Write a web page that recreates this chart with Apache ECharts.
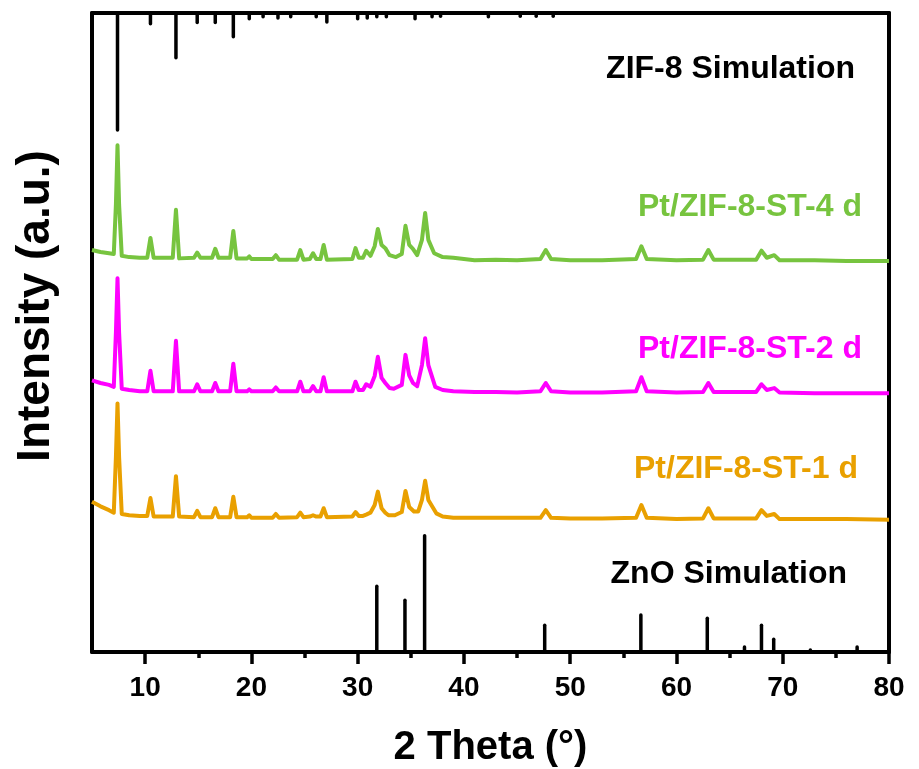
<!DOCTYPE html>
<html>
<head>
<meta charset="utf-8">
<script src="https://cdn.jsdelivr.net/npm/echarts@6/dist/echarts.min.js"></script>
<style>
  html, body { margin: 0; padding: 0; background: #fff; }
  #chart { width: 919px; height: 769px; }
</style>
</head>
<body>
<div id="chart"></div>
<script>
// reference patterns (stick heights)
const zif8Pos = [7.4, 10.5, 12.9, 14.9, 16.6, 18.3, 19.8, 21.1, 22.5, 23.7, 26.1, 27.1, 30.0, 30.9, 31.8, 32.7, 35.4, 37.0, 37.8, 42.3, 45.3, 46.8, 48.4];
const zif8Int = [18.3, 1.7, 7.0, 1.5, 1.5, 3.7, 0.9, 0.6, 0.8, 0.6, 0.6, 1.4, 0.9, 0.8, 0.6, 0.6, 0.9, 0.6, 0.5, 0.6, 0.5, 0.5, 0.5];
const znoPos = [31.8, 34.45, 36.3, 47.6, 56.65, 62.9, 66.4, 68.0, 69.15, 72.6, 77.0];
const znoInt = [10.3, 8.1, 18.2, 4.2, 5.8, 5.3, 0.8, 4.2, 2.0, 0.3, 0.8];

// measured patterns [2theta, intensity]
const st4 = [[5.0,62.9],[5.8,62.6],[6.6,62.4],[7.05,62.3],[7.25,70.0],[7.4,79.3],[7.55,70.0],[7.8,62.0],[8.5,61.8],[9.5,61.7],[10.2,61.7],[10.5,64.8],[10.8,61.7],
  [12.6,61.7],[12.9,69.2],[13.2,61.6],[14.6,61.7],[14.9,62.5],[15.2,61.7],[16.3,61.7],[16.6,63.1],[16.9,61.7],[18.0,61.7],[18.3,65.9],[18.6,61.6],
  [19.6,61.6],[19.8,61.9],[20.0,61.5],[22.0,61.5],[22.3,62.1],[22.6,61.4],[24.3,61.4],[24.6,62.9],[24.9,61.4],[25.5,61.5],[25.8,62.4],[26.1,61.5],
  [26.5,61.5],[26.8,63.7],[27.1,61.4],[29.5,61.5],[29.8,63.2],[30.1,61.7],[30.5,61.7],[30.8,62.8],[31.2,62.0],[31.6,63.5],[31.9,66.2],[32.25,63.7],
  [32.6,63.2],[33.0,62.1],[33.6,61.8],[34.15,62.3],[34.5,66.7],[34.85,63.7],[35.2,63.1],[35.6,62.1],[36.05,64.5],[36.35,68.7],[36.65,64.5],[37.2,62.4],
  [38.0,61.8],[39.0,61.7],[41.0,61.3],[43.0,61.4],[45.0,61.3],[47.2,61.5],[47.7,62.9],[48.2,61.5],[50.0,61.3],[53.0,61.3],[56.2,61.5],[56.7,63.5],
  [57.2,61.5],[60.0,61.3],[62.5,61.4],[63.0,62.9],[63.5,61.4],[67.5,61.4],[68.0,62.8],[68.5,61.7],[69.2,62.1],[69.7,61.3],[73.0,61.3],[76.0,61.2],[80.0,61.2]];
const st2 = [[5.0,42.5],[5.8,42.1],[6.6,41.8],[7.05,41.5],[7.25,50.0],[7.4,58.5],[7.55,50.0],[7.8,41.2],[8.5,41.0],[9.5,40.8],[10.2,40.8],[10.5,44.0],[10.8,40.8],
  [12.6,40.8],[12.9,48.7],[13.2,40.8],[14.6,40.8],[14.9,41.9],[15.2,40.8],[16.3,40.8],[16.6,42.1],[16.9,40.8],[18.0,40.8],[18.3,45.1],[18.6,40.8],
  [19.6,40.8],[19.8,41.1],[20.0,40.8],[22.0,40.8],[22.3,41.4],[22.6,40.8],[24.3,40.8],[24.6,42.3],[24.9,40.8],[25.5,40.8],[25.8,41.6],[26.1,40.8],
  [26.5,40.8],[26.8,43.0],[27.1,40.8],[29.5,40.8],[29.8,42.3],[30.1,41.0],[30.5,41.0],[30.8,41.9],[31.2,41.5],[31.6,43.2],[31.9,46.2],[32.25,42.9],
  [32.6,42.1],[33.0,41.3],[33.4,41.2],[34.15,41.8],[34.5,46.5],[34.85,43.3],[35.2,42.1],[35.6,41.6],[36.05,44.9],[36.35,49.1],[36.65,44.9],[37.3,41.5],
  [38.0,41.0],[39.0,40.8],[41.0,40.7],[43.0,40.7],[45.0,40.6],[47.2,40.8],[47.7,42.1],[48.2,40.8],[50.0,40.6],[53.0,40.6],[56.2,40.8],[56.7,43.0],
  [57.2,40.8],[60.0,40.6],[62.5,40.7],[63.0,42.1],[63.5,40.7],[67.5,40.7],[68.0,41.9],[68.5,41.0],[69.2,41.3],[69.7,40.6],[73.0,40.5],[76.0,40.5],[80.0,40.5]];
const st1 = [[5.0,23.5],[5.8,22.8],[6.6,22.2],[7.05,21.8],[7.25,30.5],[7.4,38.9],[7.55,30.5],[7.8,21.6],[8.5,21.4],[9.5,21.3],[10.2,21.3],[10.5,24.1],[10.8,21.2],
  [12.6,21.2],[12.9,27.5],[13.2,21.2],[14.6,21.1],[14.9,22.1],[15.2,21.1],[16.3,21.1],[16.6,22.5],[16.9,21.1],[18.0,21.1],[18.3,24.3],[18.6,21.1],
  [19.6,21.1],[19.8,21.4],[20.0,21.0],[22.0,21.0],[22.3,21.6],[22.6,21.0],[24.3,21.1],[24.6,21.8],[24.9,21.1],[25.5,21.2],[25.8,21.4],[26.1,21.2],
  [26.5,21.2],[26.8,22.5],[27.1,21.1],[29.5,21.2],[29.8,21.9],[30.1,21.3],[30.5,21.3],[30.8,21.5],[31.2,21.8],[31.6,23.0],[31.9,25.1],[32.25,22.5],
  [32.6,21.8],[32.9,21.4],[33.5,21.4],[34.15,21.9],[34.5,25.2],[34.85,22.7],[35.3,22.0],[35.7,22.0],[36.05,23.8],[36.35,26.8],[36.65,23.8],[37.4,21.7],
  [38.0,21.2],[39.0,21.0],[41.0,21.0],[43.0,21.0],[45.0,21.0],[47.2,21.0],[47.7,22.2],[48.2,21.0],[50.0,20.9],[53.0,20.9],[56.2,21.0],[56.7,23.0],
  [57.2,21.0],[60.0,20.8],[62.5,20.9],[63.0,22.5],[63.5,20.9],[67.5,20.9],[68.0,22.2],[68.5,21.3],[69.2,21.6],[69.7,20.8],[73.0,20.8],[76.0,20.8],[80.0,20.7]];

const majorTicks = [10, 20, 30, 40, 50, 60, 70, 80];
const minorTicks = [15, 25, 35, 45, 55, 65, 75];

const FONT = 'Arial, "Liberation Sans", sans-serif';
const GREEN = '#77C43F', PINK = '#FF00FF', ORANGE = '#E9A000';

const chart = echarts.init(document.getElementById('chart'));

// sticks hanging from a base value; dir = +1 up, -1 down
function stickSeries(pos, ints, base, dir) {
    return {
        type: 'custom',
        xAxisIndex: 0,
        yAxisIndex: 0,
        data: pos.map((p, i) => [p, ints[i]]),
        renderItem: (params, api) => {
            const x = api.value(0), h = api.value(1);
            const p0 = api.coord([x, base]);
            const p1 = api.coord([x, base + dir * h]);
            return {
                type: 'line',
                shape: { x1: p0[0], y1: p0[1], x2: p1[0], y2: p1[1] },
                style: { stroke: '#000', lineWidth: 3.5, lineCap: 'round' }
            };
        },
        silent: true,
        z: 3
    };
}

function lineSeries(data, color) {
    return {
        type: 'line',
        data: data,
        showSymbol: false,
        smooth: false,
        lineStyle: { color: color, width: 4, join: 'round' },
        silent: true,
        z: 4
    };
}

const labelStyle = (text, color, x, y) => ({
    type: 'text',
    right: 919 - x,
    top: y - 17,
    style: { text: text, fill: color, font: 'bold 32px ' + FONT, textAlign: 'right' }
});

const option = {
    animation: false,
    backgroundColor: '#fff',
    grid: { left: 92, right: 30, top: 13, bottom: 117, outerBoundsMode: 'none', containLabel: false },
    xAxis: [{
        type: 'value',
        position: 'bottom',
        min: 5,
        max: 80,
        axisLine: { show: true, onZero: false, lineStyle: { color: '#000', width: 4 } },
        axisTick: { show: true, customValues: majorTicks, inside: false, length: 12, lineStyle: { color: '#000', width: 3.5 } },
        axisLabel: { customValues: majorTicks, color: '#000', fontSize: 28, fontWeight: 'bold', fontFamily: FONT, margin: 22 },
        splitLine: { show: false },
        name: '2 Theta (°)',
        nameLocation: 'middle',
        nameGap: 76,
        nameTextStyle: { color: '#000', fontSize: 40, fontWeight: 'bold', fontFamily: FONT }
    }, {
        type: 'value',
        position: 'bottom',
        min: 5,
        max: 80,
        offset: 0,
        axisLine: { show: false, onZero: false },
        axisTick: { show: true, customValues: minorTicks, length: 6, lineStyle: { color: '#000', width: 3.5 } },
        axisLabel: { show: false },
        splitLine: { show: false }
    }, {
        type: 'value',
        position: 'top',
        min: 5,
        max: 80,
        axisLine: { show: true, onZero: false, lineStyle: { color: '#000', width: 4 } },
        axisTick: { show: false },
        axisLabel: { show: false },
        splitLine: { show: false }
    }],
    yAxis: [{
        type: 'value',
        min: 0,
        max: 100,
        position: 'left',
        axisLine: { show: true, onZero: false, lineStyle: { color: '#000', width: 4 } },
        axisTick: { show: false },
        axisLabel: { show: false },
        splitLine: { show: false }
    }, {
        type: 'value',
        min: 0,
        max: 100,
        position: 'right',
        axisLine: { show: true, onZero: false, lineStyle: { color: '#000', width: 4 } },
        axisTick: { show: false },
        axisLabel: { show: false },
        splitLine: { show: false }
    }],
    graphic: [
        {
            type: 'text',
            x: 36,
            y: 306,
            rotation: Math.PI / 2,
            style: { text: 'Intensity (a.u.)', fill: '#000', font: 'bold 46px ' + FONT, textAlign: 'center', textVerticalAlign: 'middle' }
        },
        labelStyle('ZIF-8 Simulation', '#000', 855, 70),
        labelStyle('Pt/ZIF-8-ST-4 d', GREEN, 862, 208),
        labelStyle('Pt/ZIF-8-ST-2 d', PINK, 862, 350),
        labelStyle('Pt/ZIF-8-ST-1 d', ORANGE, 858, 470),
        labelStyle('ZnO Simulation', '#000', 847, 575)
    ],
    series: [
        stickSeries(zif8Pos, zif8Int, 100, -1),
        lineSeries(st4, GREEN),
        lineSeries(st2, PINK),
        lineSeries(st1, ORANGE),
        stickSeries(znoPos, znoInt, 0, 1)
    ]
};

chart.setOption(option);
</script>
</body>
</html>
